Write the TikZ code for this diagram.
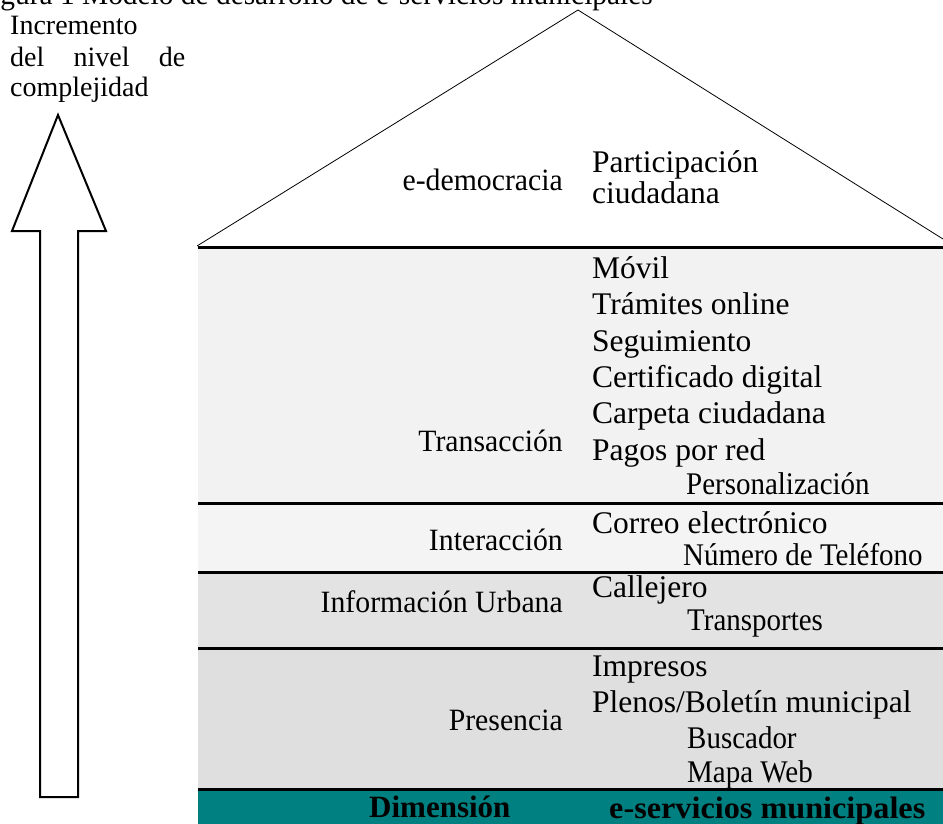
\documentclass[tikz,border=0pt]{standalone}
\usepackage{fontspec}
\setmainfont{Liberation Serif}
\definecolor{bandA}{HTML}{F2F2F2}
\definecolor{bandB}{HTML}{F4F4F4}
\definecolor{bandC}{HTML}{E3E3E3}
\definecolor{bandD}{HTML}{DFDFDF}
\definecolor{tealbar}{HTML}{008080}
\begin{document}
\begin{tikzpicture}[x=1pt,y=-1pt,
  item/.style={inner sep=0pt, anchor=base west, font=\fontsize{31.5}{34}\selectfont},
  subitem/.style={inner sep=0pt, anchor=base west, font=\fontsize{31.5}{34}\selectfont, xscale=0.92},
  label/.style={inner sep=0pt, anchor=base east, font=\fontsize{31}{34}\selectfont, xscale=0.96},
  lefttxt/.style={inner sep=0pt, anchor=base west, font=\fontsize{28}{30}\selectfont},
  boldtxt/.style={inner sep=0pt, anchor=base west, font=\fontsize{31}{34}\selectfont\bfseries},
  sepline/.style={line width=3pt},
  roof/.style={line width=0.8pt},
  bigarrow/.style={line width=2pt, fill=white, line join=miter}]
\clip (0,0) rectangle (943,824);
% caption (cut off at top, as in the reference)
\node[inner sep=0pt, anchor=base east, font=\fontsize{30}{32}\selectfont, xscale=0.98] (cap) at (653,5) {Figura 1 Modelo de desarrollo de e-servicios municipales};
% bands
\fill[bandA] (198,247) rectangle (943,503);
\fill[bandB] (198,503) rectangle (943,572);
\fill[bandC] (198,572) rectangle (943,648);
\fill[bandD] (198,648) rectangle (943,789);
\fill[tealbar] (198,789) rectangle (943,824);
\draw[sepline] (198,247) -- (943,247);
\draw[sepline] (198,503) -- (943,503);
\draw[sepline] (198,572) -- (943,572);
\draw[sepline] (198,648) -- (943,648);
\draw[sepline] (198,789) -- (943,789);
% roof
\coordinate (rl) at (197,246);
\coordinate (apex) at (578,10);
\coordinate (rr) at (943,239);
\draw[roof] (rl) -- (apex) -- (rr);
% arrow
\draw[bigarrow] (58,115) -- (106,231) -- (78,231) -- (78,797) -- (40,797) -- (40,231) -- (12,231) -- cycle;
% left text
\node[lefttxt] (l1) at (10,35) {Incremento};
\node[lefttxt] (l2) at (10,67) {\makebox[175pt][s]{del\hfill nivel\hfill de}};
\node[lefttxt] (l3) at (10,97) {complejidad};
% e-democracia
\node[label] (edem) at (563,190) {e-democracia};
\node[item] (part) at (592,172) {Participación};
\node[item] (ciud) at (592,204) {ciudadana};
% Transaccion
\node[label] (trans) at (563,451) {Transacción};
\node[item] (t1) at (592,278) {Móvil};
\node[item] (t2) at (592,314.5) {Trámites online};
\node[item] (t3) at (592,351) {Seguimiento};
\node[item] (t4) at (592,387) {Certificado digital};
\node[item] (t5) at (592,423.5) {Carpeta ciudadana};
\node[item] (t6) at (592,460) {Pagos por red};
\node[subitem] (t7) at (686,494) {Personalización};
% Interaccion
\node[label] (inter) at (563,550) {Interacción};
\node[item] (i1) at (592,533) {Correo electrónico};
\node[subitem] (i2) at (683,565) {Número de Teléfono};
% Informacion urbana
\node[label] (info) at (563,612) {Información Urbana};
\node[item] (u1) at (592,597) {Callejero};
\node[subitem] (u2) at (687,630) {Transportes};
% Presencia
\node[label] (pres) at (563,730) {Presencia};
\node[item] (p1) at (592,676) {Impresos};
\node[item] (p2) at (592,712) {Plenos/Boletín municipal};
\node[subitem] (p3) at (687,748) {Buscador};
\node[subitem] (p4) at (687,782) {Mapa Web};
% bottom bar
\node[boldtxt] (dim) at (369,817) {Dimensión};
\node[boldtxt, xscale=1.04] (eserv) at (609,818) {e-servicios municipales};
\end{tikzpicture}
\end{document}
